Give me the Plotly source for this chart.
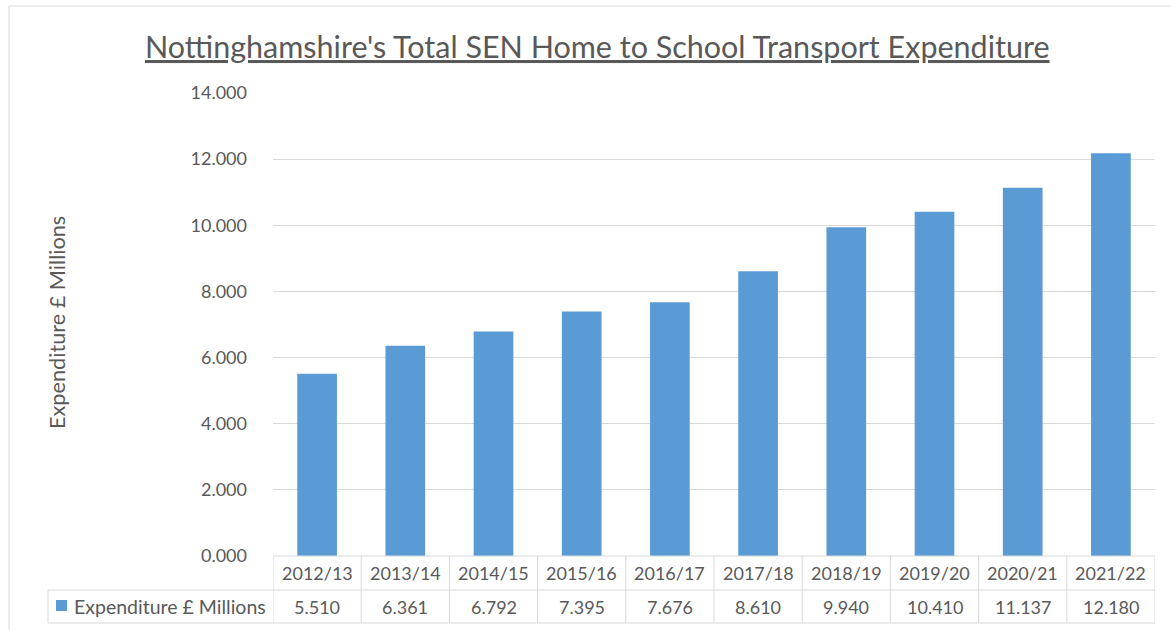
import plotly.graph_objects as go

categories = ["2012/13", "2013/14", "2014/15", "2015/16", "2016/17",
              "2017/18", "2018/19", "2019/20", "2020/21", "2021/22"]
expenditure = [5.510, 6.361, 6.792, 7.395, 7.676, 8.610, 9.940, 10.410, 11.137, 12.180]
series_name = "Expenditure £ Millions"
title_text = "Nottinghamshire's Total SEN Home to School Transport Expenditure"
y_ticks = [0, 2, 4, 6, 8, 10, 12, 14]

W, H = 1171, 630
L, R, T, B = 273, 1155, 93, 556  # plot area in pixels
FONT = "Lato, Carlito, Calibri, sans-serif"
TXT = "#595959"
GRID = "#D9D9D9"
BLUE = "#5B9BD5"

def px(x):
    return (x - L) / (R - L)

def py(y):
    return (B - y) / (B - T)

fig = go.Figure()
fig.add_trace(go.Bar(x=categories, y=expenditure, name=series_name,
                     marker=dict(color=BLUE, line=dict(width=0)), width=0.45))

shapes = []
annotations = []
row1_top, row1_bot, row2_bot = 556, 590, 623
legend_left = 48
# horizontal lines of the data table
shapes.append(dict(type="line", xref="paper", yref="paper", x0=px(L), x1=px(R),
                   y0=py(row1_top), y1=py(row1_top), line=dict(color=GRID, width=1)))
for yy in (row1_bot, row2_bot):
    shapes.append(dict(type="line", xref="paper", yref="paper", x0=px(legend_left), x1=px(R),
                       y0=py(yy), y1=py(yy), line=dict(color=GRID, width=1)))
# vertical lines
shapes.append(dict(type="line", xref="paper", yref="paper", x0=px(legend_left), x1=px(legend_left),
                   y0=py(row1_bot), y1=py(row2_bot), line=dict(color=GRID, width=1)))
for i in range(len(categories) + 1):
    shapes.append(dict(type="line", xref="x", yref="paper", x0=i - 0.5, x1=i - 0.5,
                       y0=py(row1_top), y1=py(row2_bot), line=dict(color=GRID, width=1)))
# legend key square
shapes.append(dict(type="rect", xref="paper", yref="paper", x0=px(56), x1=px(67),
                   y0=py(600), y1=py(611), fillcolor=BLUE, line=dict(width=0)))
# outer chart frame (left and top)
shapes.append(dict(type="line", xref="paper", yref="paper", x0=px(9), x1=px(9),
                   y0=py(6), y1=py(630), line=dict(color=GRID, width=1)))
shapes.append(dict(type="line", xref="paper", yref="paper", x0=px(9), x1=px(1171),
                   y0=py(6), y1=py(6), line=dict(color=GRID, width=1)))

tf = dict(size=18, color=TXT, family=FONT)
for i, (c, v) in enumerate(zip(categories, expenditure)):
    annotations.append(dict(x=c, y=py((row1_top + row1_bot) / 2), xref="x", yref="paper",
                            xanchor="center", yanchor="middle",
                            text=c, showarrow=False, font=tf))
    annotations.append(dict(x=c, y=py((row1_bot + row2_bot) / 2), xref="x", yref="paper",
                            xanchor="center", yanchor="middle",
                            text=f"{v:.3f}", showarrow=False, font=tf))
annotations.append(dict(x=px(72), y=py((row1_bot + row2_bot) / 2), xref="paper", yref="paper",
                        xanchor="left", yanchor="middle", text=series_name, showarrow=False,
                        font=dict(size=19.5, color=TXT, family=FONT)))
annotations.append(dict(x=px(57), y=py(323), xref="paper", yref="paper", textangle=-90,
                        xanchor="center", yanchor="middle",
                        text=series_name, showarrow=False, font=dict(size=21.7, color=TXT, family=FONT)))
annotations.append(dict(x=px(597), y=py(46), xref="paper", yref="paper",
                        xanchor="center", yanchor="middle",
                        text=f"<u>{title_text}</u>", showarrow=False,
                        font=dict(size=30.5, color=TXT, family=FONT)))

fig.update_layout(
    width=W, height=H,
    margin=dict(l=L, r=W - R, t=T, b=H - B, pad=0),
    paper_bgcolor="white", plot_bgcolor="white",
    showlegend=False,
    shapes=shapes, annotations=annotations,
    font=dict(family=FONT, color=TXT),
    xaxis=dict(type="category", range=[-0.5, len(categories) - 0.5], showticklabels=False,
               showgrid=False, zeroline=False, showline=False, ticks=""),
    yaxis=dict(range=[0, 14], tickvals=y_ticks, ticktext=[f"{t:.3f}" for t in y_ticks],
               showgrid=True, gridcolor=GRID, gridwidth=1, zeroline=False, showline=False,
               ticks="", ticklabelstandoff=25, tickfont=dict(size=18, color=TXT, family=FONT)),
    bargap=0.55,
)

fig.write_html("out.html", config={"displayModeBar": False},
               post_script="document.body.style.margin='0';")
